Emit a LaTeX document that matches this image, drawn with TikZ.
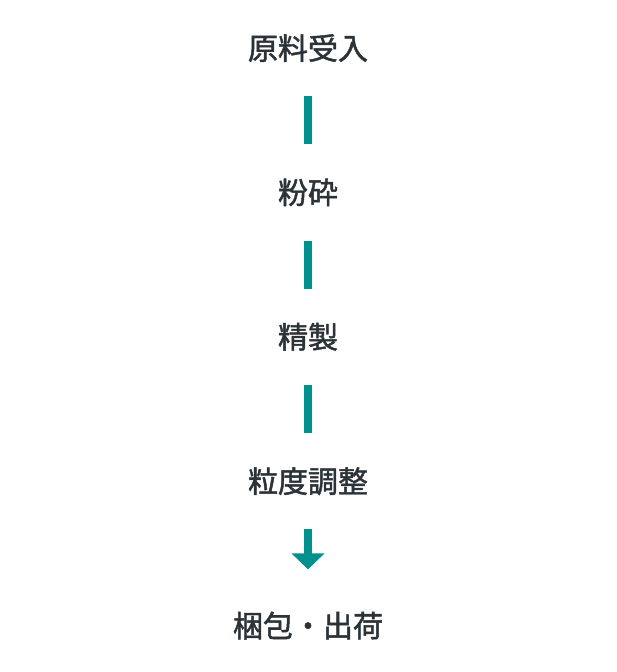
\documentclass[tikz,border=0pt]{standalone}
\usepackage{fontspec}
\newfontfamily\jpfont[FakeBold=1.6]{Noto Sans CJK JP}
\usepackage{tikz}
\usetikzlibrary{arrows.meta,positioning}
\definecolor{flowteal}{HTML}{00918F}
\definecolor{flowtext}{HTML}{2B3338}

\begin{document}
\begin{tikzpicture}[
  x=1pt, y=-1pt,
  node distance=48pt,
  stage/.style={minimum height=96pt, inner sep=0pt, text=flowtext,
                font=\jpfont\fontsize{30}{34}\selectfont},
  bar/.style={line width=8pt, draw=flowteal},
  arr/.style={bar, -{Triangle[length=16pt, width=32pt]}, fill=flowteal, shorten >=8pt}
]
\useasboundingbox (0,0) rectangle (616,672);
\node[stage] (recv) at (308,48) {原料受入};
\node[stage, below=of recv] (crush) {粉砕};
\node[stage, below=of crush] (refine) {精製};
\node[stage, below=of refine] (grade) {粒度調整};
\node[stage, below=of grade] (ship) {梱包・出荷};

\draw[bar] (recv) -- (crush);
\draw[bar] (crush) -- (refine);
\draw[bar] (refine) -- (grade);
\draw[arr] (grade) -- (ship);
\end{tikzpicture}
\end{document}
